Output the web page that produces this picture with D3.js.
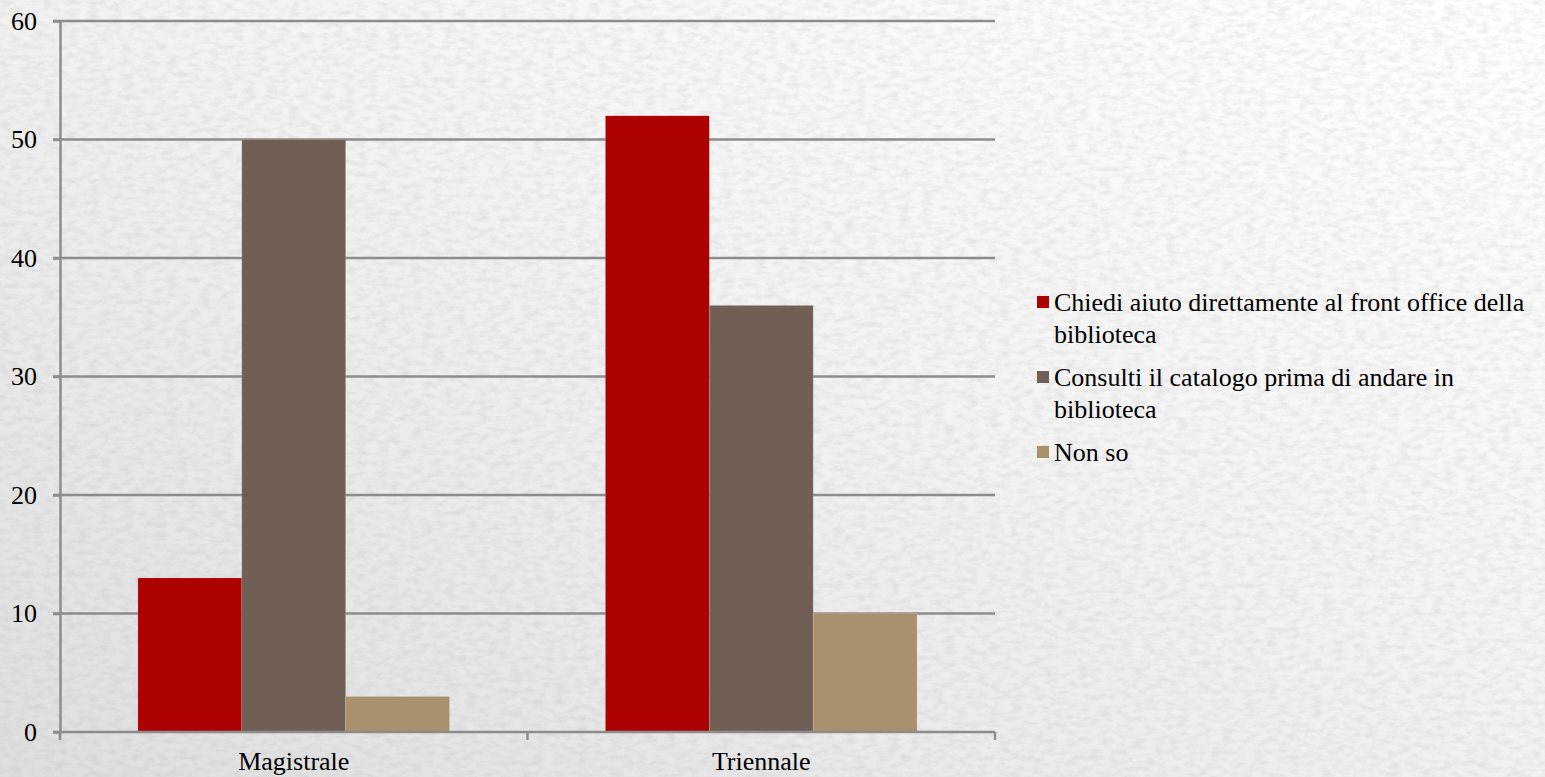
<!DOCTYPE html>
<html>
<head>
<meta charset="utf-8">
<script src="https://cdn.jsdelivr.net/npm/d3@7"></script>
<style>
  html, body { margin: 0; padding: 0; overflow: hidden; }
  svg { display: block; }
  svg text { font-family: 'Liberation Serif', 'Times New Roman', serif; }
</style>
</head>
<body>
<script>
const width  = 1545,
      height = 777;

// data
const categories = ['Magistrale', 'Triennale'];
const seriesNames = [
  'Chiedi aiuto direttamente al front office della biblioteca',
  'Consulti il catalogo prima di andare in biblioteca',
  'Non so'
];
const legendLines = [
  ['Chiedi aiuto direttamente al front office della', 'biblioteca'],
  ['Consulti il catalogo prima di andare in', 'biblioteca'],
  ['Non so']
];
const seriesValues = [
  [13, 52],
  [50, 36],
  [3, 10]
];
const yTicks = [0, 10, 20, 30, 40, 50, 60];
const colors = ['#ad0000', '#715f55', '#a9916e'];

const plot = { left: 60, right: 995, top: 21, bottom: 732 };
const axisColor = '#8c8c8c';
const fontSize = 26;

const svg = d3.select('body').append('svg')
  .attr('width', width)
  .attr('height', height);

// paper background
const defs = svg.append('defs');
const grad = defs.append('linearGradient')
  .attr('id', 'bg')
  .attr('x1', '100%').attr('y1', '0%')
  .attr('x2', '0%').attr('y2', '100%');
grad.append('stop').attr('offset', '0%').attr('stop-color', '#ffffff');
grad.append('stop').attr('offset', '45%').attr('stop-color', '#f3f3f3');
grad.append('stop').attr('offset', '100%').attr('stop-color', '#dedede');

const noise = defs.append('filter').attr('id', 'noise')
  .attr('x', 0).attr('y', 0).attr('width', '100%').attr('height', '100%');
noise.append('feTurbulence')
  .attr('type', 'fractalNoise')
  .attr('baseFrequency', '0.09 0.18')
  .attr('numOctaves', 3)
  .attr('seed', 4)
  .attr('result', 't');
noise.append('feColorMatrix')
  .attr('in', 't')
  .attr('type', 'matrix')
  .attr('values', '0 0 0 0 0.45  0 0 0 0 0.45  0 0 0 0 0.45  0 0 0 -1.6 1.0');

svg.append('rect')
  .attr('width', width).attr('height', height)
  .attr('fill', 'url(#bg)');
svg.append('rect')
  .attr('width', width).attr('height', height)
  .attr('filter', 'url(#noise)')
  .attr('opacity', 0.3);

// scales
const x0 = d3.scaleBand()
  .domain(categories)
  .range([plot.left, plot.right])
  .paddingInner(0)
  .paddingOuter(0);

const x1 = d3.scaleBand()
  .domain(d3.range(seriesNames.length))
  .range([0, x0.bandwidth()])
  .paddingOuter(0.75)
  .paddingInner(0);

const y = d3.scaleLinear()
  .domain([0, 60])
  .range([plot.bottom, plot.top]);

// gridlines
svg.append('g')
  .selectAll('line')
  .data(yTicks.filter(d => d > 0))
  .join('line')
  .attr('x1', plot.left - 7)
  .attr('x2', plot.right)
  .attr('y1', d => y(d))
  .attr('y2', d => y(d))
  .attr('stroke', axisColor)
  .attr('stroke-width', 2.5);

// bars
const groups = svg.append('g')
  .selectAll('g')
  .data(seriesValues)
  .join('g')
  .attr('fill', (d, i) => colors[i]);

groups.selectAll('rect')
  .data((vals, si) => vals.map((v, ci) => ({ v, si, ci })))
  .join('rect')
  .attr('x', d => x0(categories[d.ci]) + x1(d.si))
  .attr('width', x1.bandwidth())
  .attr('y', d => y(d.v))
  .attr('height', d => y(0) - y(d.v))
  .attr('stroke', 'rgba(255,255,255,0.25)')
  .attr('stroke-width', 0.6);

// y axis
const yAxis = svg.append('g')
  .attr('transform', `translate(${plot.left},0)`)
  .call(d3.axisLeft(y).tickValues(yTicks).tickSize(7).tickSizeOuter(0).tickPadding(16));
yAxis.attr('font-family', null).attr('font-size', fontSize);
yAxis.selectAll('line, path').attr('stroke', axisColor).attr('stroke-width', 2.5);
yAxis.selectAll('text').attr('fill', '#000');

// x axis
const xAxis = svg.append('g')
  .attr('transform', `translate(0,${plot.bottom})`)
  .call(d3.axisBottom(x0).tickSize(0).tickPadding(20));
xAxis.attr('font-family', null).attr('font-size', fontSize);
xAxis.select('.domain')
  .attr('d', `M${plot.left - 7},0H${plot.right}`)
  .attr('stroke', axisColor).attr('stroke-width', 2.5);
xAxis.selectAll('text').attr('fill', '#000');

const bounds = [plot.left, ...categories.map(c => x0(c) + x0.bandwidth())];
xAxis.append('g').selectAll('line')
  .data(bounds)
  .join('line')
  .attr('x1', d => d).attr('x2', d => d)
  .attr('y1', 0).attr('y2', 8)
  .attr('stroke', axisColor).attr('stroke-width', 2.5);

// legend
const legend = svg.append('g')
  .attr('transform', 'translate(1037,0)');
const itemTop = [296, 371, 446];

const items = legend.selectAll('g')
  .data(seriesNames)
  .join('g')
  .attr('transform', (d, i) => `translate(0,${itemTop[i]})`);

items.append('rect')
  .attr('width', 12).attr('height', 12)
  .attr('fill', (d, i) => colors[i]);

items.append('text')
  .attr('font-size', fontSize)
  .attr('fill', '#000')
  .selectAll('tspan')
  .data((d, i) => legendLines[i])
  .join('tspan')
  .attr('x', 17)
  .attr('y', (d, j) => 15 + j * 32)
  .text(d => d);
</script>
</body>
</html>
